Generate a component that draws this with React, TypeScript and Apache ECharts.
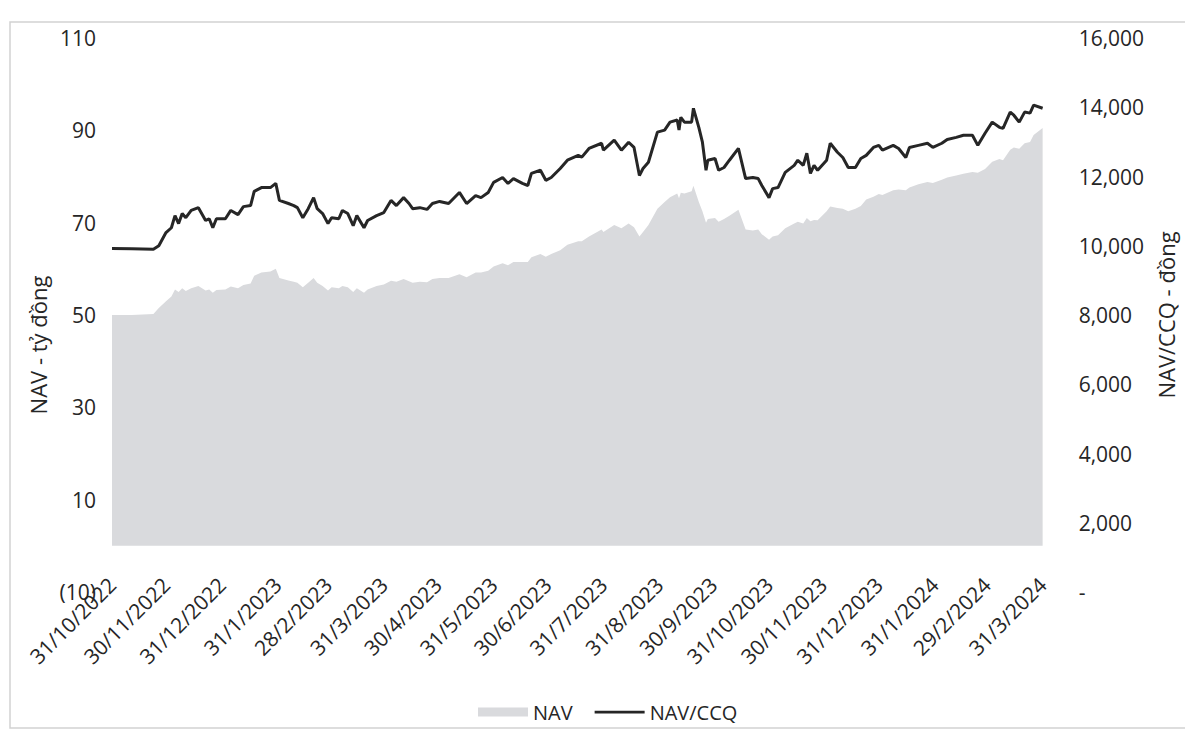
import React, { useEffect, useRef } from "react";
import * as echarts from "echarts";

const dates = [
  "2022-10-31", "2022-11-11", "2022-11-23", "2022-11-26", "2022-11-30", "2022-12-03", "2022-12-05", "2022-12-07",
  "2022-12-09", "2022-12-11", "2022-12-14", "2022-12-18", "2022-12-22", "2022-12-24", "2022-12-26", "2022-12-28",
  "2023-01-02", "2023-01-05", "2023-01-09", "2023-01-12", "2023-01-16", "2023-01-18", "2023-01-22", "2023-01-27",
  "2023-01-30", "2023-02-01", "2023-02-06", "2023-02-09", "2023-02-11", "2023-02-14", "2023-02-17", "2023-02-20",
  "2023-02-22", "2023-02-25", "2023-02-28", "2023-03-02", "2023-03-06", "2023-03-08", "2023-03-11", "2023-03-14",
  "2023-03-16", "2023-03-20", "2023-03-22", "2023-03-27", "2023-03-31", "2023-04-04", "2023-04-07", "2023-04-11",
  "2023-04-14", "2023-04-16", "2023-04-20", "2023-04-24", "2023-04-27", "2023-05-01", "2023-05-06", "2023-05-12",
  "2023-05-16", "2023-05-21", "2023-05-24", "2023-05-28", "2023-05-31", "2023-06-05", "2023-06-08", "2023-06-11",
  "2023-06-16", "2023-06-19", "2023-06-21", "2023-06-26", "2023-06-29", "2023-07-02", "2023-07-07", "2023-07-11",
  "2023-07-17", "2023-07-19", "2023-07-23", "2023-07-30", "2023-07-31", "2023-08-06", "2023-08-10", "2023-08-14",
  "2023-08-17", "2023-08-20", "2023-08-22", "2023-08-25", "2023-08-30", "2023-09-03", "2023-09-06", "2023-09-10",
  "2023-09-11", "2023-09-12", "2023-09-14", "2023-09-18", "2023-09-19", "2023-09-22", "2023-09-24", "2023-09-26",
  "2023-09-27", "2023-10-01", "2023-10-03", "2023-10-06", "2023-10-09", "2023-10-14", "2023-10-18", "2023-10-22",
  "2023-10-25", "2023-10-27", "2023-10-31", "2023-11-02", "2023-11-05", "2023-11-09", "2023-11-14", "2023-11-16",
  "2023-11-19", "2023-11-21", "2023-11-23", "2023-11-25", "2023-11-27", "2023-12-02", "2023-12-04", "2023-12-08",
  "2023-12-11", "2023-12-14", "2023-12-18", "2023-12-21", "2023-12-24", "2023-12-28", "2023-12-31", "2024-01-02",
  "2024-01-08", "2024-01-11", "2024-01-15", "2024-01-17", "2024-01-22", "2024-01-27", "2024-01-30", "2024-02-04",
  "2024-02-07", "2024-02-12", "2024-02-16", "2024-02-21", "2024-02-24", "2024-02-28", "2024-03-03", "2024-03-07",
  "2024-03-09", "2024-03-13", "2024-03-15", "2024-03-18", "2024-03-21", "2024-03-24", "2024-03-26", "2024-03-31",
];

const navValues = [
  50, 50, 50.2, 51.5, 53, 54, 55.5, 55,
  55.8, 55.2, 55.8, 56.3, 55.3, 55.5, 54.8, 55.4,
  55.5, 56.2, 55.8, 56.5, 56.8, 58.5, 59.2, 59.4,
  60, 58, 57.5, 57.2, 57, 56, 57, 58,
  57, 56.3, 55.3, 56, 55.8, 56.3, 56, 55,
  55.8, 54.8, 55.5, 56.3, 56.6, 57.4, 57.2, 57.8,
  57.3, 57, 57.2, 57.1, 57.8, 58, 58, 58.8,
  58.2, 59.2, 59.2, 59.6, 60.5, 61.2, 60.8, 61.5,
  61.5, 61.5, 62.5, 63.2, 62.6, 63.2, 64, 65.2,
  66, 66, 67, 68.5, 68, 69.5, 68.8, 69.8,
  69, 67, 68, 69.5, 73, 74.5, 75.5, 76.3,
  75.3, 76.5, 76.3, 76.8, 78, 74.5, 72.5, 70,
  70.8, 71, 70.2, 70.8, 71.5, 72.8, 68.5, 68.3,
  68.5, 67.5, 66.3, 67, 67.3, 68.8, 69.8, 70.2,
  69.8, 71, 70.3, 70.6, 70.5, 72.5, 73.5, 73.2,
  73, 72.5, 73, 73.6, 75, 75.6, 76.2, 76,
  77, 77.2, 77, 77.6, 78.3, 78.8, 78.6, 79.3,
  79.8, 80.2, 80.6, 81, 80.8, 81.6, 83.2, 83.8,
  83.5, 85.8, 86.3, 86, 87.2, 87.5, 89, 90.5,
];

const navPerUnit = [
  9920, 9910, 9900, 10000, 10380, 10520, 10870, 10640,
  10930, 10810, 11020, 11100, 10730, 10780, 10520, 10780,
  10780, 11020, 10900, 11130, 11160, 11570, 11680, 11680,
  11800, 11310, 11220, 11160, 11100, 10810, 11070, 11390,
  11070, 10930, 10640, 10810, 10780, 11020, 10930, 10580,
  10870, 10520, 10730, 10870, 10960, 11310, 11160, 11390,
  11220, 11070, 11100, 11050, 11220, 11280, 11220, 11540,
  11220, 11450, 11390, 11540, 11830, 11970, 11800, 11940,
  11800, 11740, 12090, 12180, 11890, 11970, 12230, 12470,
  12610, 12560, 12810, 12960, 12760, 13050, 12760, 12990,
  12840, 12030, 12230, 12410, 13280, 13340, 13570, 13630,
  13340, 13710, 13570, 13570, 13970, 13420, 12990, 12180,
  12470, 12520, 12180, 12260, 12470, 12810, 11940, 11970,
  11940, 11740, 11390, 11650, 11680, 12120, 12320, 12470,
  12320, 12670, 12090, 12320, 12180, 12470, 12960, 12700,
  12550, 12260, 12260, 12520, 12610, 12840, 12900, 12760,
  12900, 12810, 12550, 12840, 12900, 12960, 12840, 12960,
  13070, 13130, 13190, 13190, 12900, 13250, 13570, 13420,
  13390, 13860, 13770, 13570, 13860, 13830, 14060, 13970,
];

const xTickDates = [
  "2022-10-31", "2022-11-30", "2022-12-31", "2023-01-31", "2023-02-28", "2023-03-31",
  "2023-04-30", "2023-05-31", "2023-06-30", "2023-07-31", "2023-08-31", "2023-09-30",
  "2023-10-31", "2023-11-30", "2023-12-31", "2024-01-31", "2024-02-29", "2024-03-31",
];
const xTickLabels = [
  "31/10/2022", "30/11/2022", "31/12/2022", "31/1/2023", "28/2/2023", "31/3/2023",
  "30/4/2023", "31/5/2023", "30/6/2023", "31/7/2023", "31/8/2023", "30/9/2023",
  "31/10/2023", "30/11/2023", "31/12/2023", "31/1/2024", "29/2/2024", "31/3/2024",
];

const FONT = "Open Sans";
const TEXT = "#262626";
const AREA = "#d9dadd";
// thin bar spanning the full legend icon box (50 x 9), bar ~2.5px thick
const LINE_ICON = "path://M0,0L0.01,0L0.01,0.01Z M0,9L0.01,9L0.01,8.99Z M0,3.3H50V5.9H0Z";

function ts(s: string) {
  const [y, m, d] = s.split("-").map(Number);
  return new Date(y, m - 1, d).getTime();
}

export default function App() {
  const ref = useRef<HTMLDivElement>(null);
  useEffect(() => {
    document.body.style.margin = "0";
    const chart = echarts.init(ref.current!, null, { renderer: "svg" });
    const tickTs = xTickDates.map(ts);
    chart.setOption({
      animation: false,
      backgroundColor: "#fff",
      textStyle: { fontFamily: FONT },
      graphic: [
        {
          type: "rect",
          silent: true,
          z: -10,
          shape: { x: 10, y: 22, width: 1200, height: 706 },
          style: { fill: "none", stroke: "#d2d2d2", lineWidth: 1.5 },
        },
      ],
      grid: { left: 112, right: 119, top: 38, bottom: 137 },
      legend: {
        left: 473,
        top: 697,
        itemWidth: 50,
        itemHeight: 9,
        itemGap: 22,
        textStyle: { fontSize: 20, color: TEXT, fontFamily: FONT },
        data: [
          { name: "NAV", icon: "rect" },
          { name: "NAV/CCQ", icon: LINE_ICON, itemStyle: { color: TEXT } },
        ],
      },
      xAxis: {
        type: "value",
        min: ts("2022-10-31"),
        max: ts("2024-03-31"),
        axisLine: { show: false },
        axisTick: { show: false },
        splitLine: { show: false },
        axisLabel: {
          customValues: tickTs,
          rotate: 45,
          margin: -11,
          fontSize: 21,
          color: TEXT,
          fontFamily: FONT,
          hideOverlap: false,
          formatter: (v: number) => {
            const i = tickTs.indexOf(v);
            return i >= 0 ? xTickLabels[i] : "";
          },
        },
      },
      yAxis: [
        {
          type: "value",
          min: -10,
          max: 110,
          interval: 20,
          name: "NAV - tỷ đồng",
          nameLocation: "middle",
          nameRotate: 90,
          nameGap: 56,
          nameTextStyle: { fontSize: 22, color: TEXT, fontFamily: FONT, padding: [0, 60, 0, 0] },
          axisLine: { show: false },
          axisTick: { show: false },
          splitLine: { show: false },
          axisLabel: {
            fontSize: 21,
            color: TEXT,
            fontFamily: FONT,
            margin: 16,
            formatter: (v: number) => (v < 0 ? `(${-v})` : String(v)),
          },
        },
        {
          type: "value",
          position: "right",
          min: 0,
          max: 16000,
          interval: 2000,
          name: "NAV/CCQ - đồng",
          nameLocation: "middle",
          nameRotate: 90,
          nameGap: 100,
          nameTextStyle: { fontSize: 22, color: TEXT, fontFamily: FONT },
          axisLine: { show: false },
          axisTick: { show: false },
          splitLine: { show: false },
          axisLabel: {
            fontSize: 21,
            color: TEXT,
            fontFamily: FONT,
            margin: 36,
            formatter: (v: number) => (v === 0 ? "-" : v.toLocaleString("en-US")),
          },
        },
      ],
      series: [
        {
          name: "NAV",
          type: "line",
          yAxisIndex: 0,
          data: dates.map((d, i) => [ts(d), navValues[i]]),
          symbol: "none",
          showSymbol: false,
          color: AREA,
          itemStyle: { color: AREA },
          lineStyle: { width: 0, color: AREA },
          areaStyle: { color: AREA, opacity: 1 },
          z: 1,
        },
        {
          name: "NAV/CCQ",
          type: "line",
          yAxisIndex: 1,
          data: dates.map((d, i) => [ts(d), navPerUnit[i]]),
          symbol: "none",
          showSymbol: false,
          color: TEXT,
          itemStyle: { color: TEXT },
          lineStyle: { width: 3, color: TEXT },
          z: 3,
        },
      ],
    });
    return () => chart.dispose();
  }, []);
  return (
    <div
      ref={ref}
      style={{ position: "absolute", left: 0, top: 0, width: 1185, height: 729, background: "#fff" }}
    />
  );
}
